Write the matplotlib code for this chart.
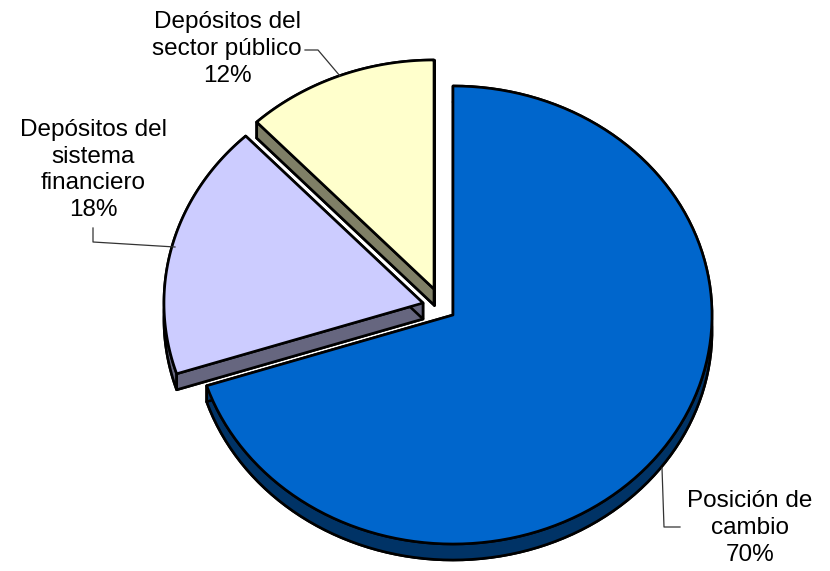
import numpy as np
import matplotlib.pyplot as plt
from matplotlib.patches import Polygon

# shares of each component, clockwise from 12 o'clock
labels = ['Posición de\ncambio', 'Depósitos del\nsistema\nfinanciero', 'Depósitos del\nsector público']
shares = [70, 18, 12]
top_colors = ['#0066CC', '#CCCCFF', '#FFFFCC']
side_colors = ['#003366', '#66667F', '#7F7F66']

# pixel-space layout of the tilted pie
cx, cy = 453, 315
rx, ry = 259, 229
depth = 16
offsets = [(0, 0), (-30, -12), (-19, -26)]   # exploded slices
label_pos = [(750, 528), (93, 170), (227, 49)]
leaders = [[(662, 468), (664, 527), (680, 527)],
           [(93, 228), (93, 242), (175, 247)],
           [(305, 50), (318, 50), (340, 76)]]

plt.rcParams['font.family'] = ['Liberation Sans', 'DejaVu Sans']
fig = plt.figure(figsize=(8.3, 5.71), dpi=100)
ax = fig.add_axes([0, 0, 1, 1])
ax.set_xlim(0, 830)
ax.set_ylim(571, 0)
ax.axis('off')


def arc(t0, t1, dx, dy, n=120):
    t = np.radians(np.linspace(t0, t1, n))
    return np.column_stack([cx + dx + rx * np.cos(t), cy + dy - ry * np.sin(t)])


def draw_slice(t0, t1, dx, dy, top, side, z):
    pts = arc(t0, t1, dx, dy)
    v = np.array([[cx + dx, cy + dy]])
    face = np.vstack([v, pts])
    down = face + [0, depth]
    kw = dict(edgecolor='black', lw=1.9, joinstyle='round', zorder=z)
    ax.add_patch(Polygon(down, closed=True, facecolor=side, **kw))
    # curved outer wall
    ax.add_patch(Polygon(np.vstack([pts, (pts + [0, depth])[::-1]]),
                         closed=True, facecolor=side, **kw))
    # radial walls
    for p in (pts[0], pts[-1]):
        q = np.array([v[0], p, p + [0, depth], v[0] + [0, depth]])
        ax.add_patch(Polygon(q, closed=True, facecolor=side, **kw))
    ax.add_patch(Polygon(face, closed=True, facecolor=top, **kw))


angles = 90 - np.cumsum([0] + shares) * 3.6
order = [2, 1, 0]  # back to front
for k, i in enumerate(order):
    dx, dy = offsets[i]
    draw_slice(angles[i], angles[i + 1], dx, dy, top_colors[i], side_colors[i], 2 + k)

for i in range(len(shares)):
    x, y = label_pos[i]
    ax.text(x, y, f'{labels[i]}\n{shares[i]}%', ha='center', va='center',
            multialignment='center', fontsize=17.5, linespacing=1.27, color='black')
    lx, ly = zip(*leaders[i])
    ax.plot(lx, ly, color='#333333', lw=0.9, zorder=10)

fig.savefig('out.png', dpi=100)
